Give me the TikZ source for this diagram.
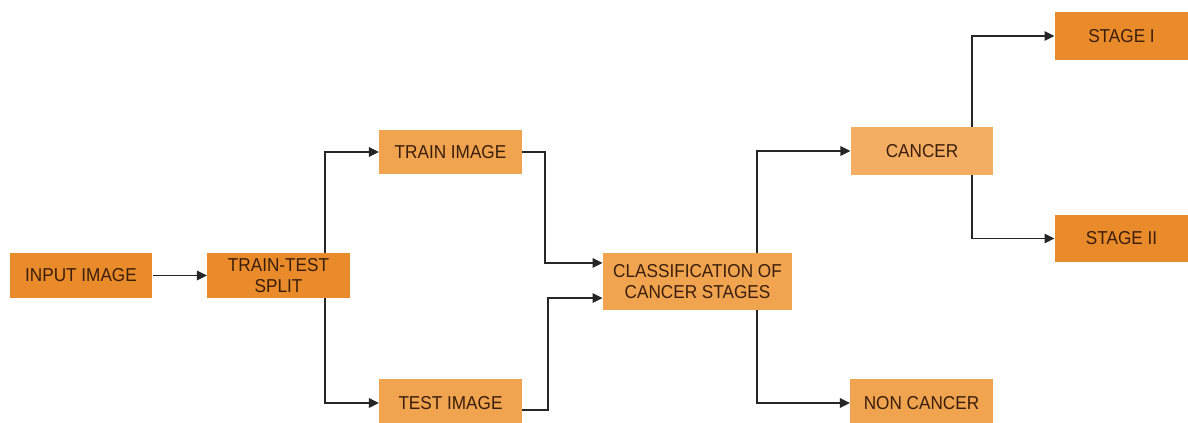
\documentclass[tikz,border=0pt]{standalone}
\usepackage{fontspec}
\setmainfont[FakeStretch=0.92]{Liberation Sans}
\usetikzlibrary{arrows.meta, positioning}

\definecolor{boxdark}{HTML}{E98A2B}
\definecolor{boxlight}{HTML}{F1A44F}
\definecolor{boxpale}{HTML}{F3AE63}
\definecolor{boxtext}{HTML}{3A1E0A}

\begin{document}
\begin{tikzpicture}[x=0.75pt, y=-0.75pt, >={Triangle[length=7.5pt,width=7pt]}]
        \tikzstyle{box}=[rectangle, inner sep=0pt, text=boxtext, align=center,
                         font=\fontsize{14}{15.5}\selectfont]
        \tikzstyle{dark box}=[box, fill=boxdark];
        \tikzstyle{light box}=[box, fill=boxlight];
        \tikzstyle{pale box}=[box, fill=boxpale];
        \tikzstyle{arrow}=[->, line width=1.4pt, draw=black!85];

        \useasboundingbox (0,0) rectangle (1188,423);

        % Input and split
        \node[dark box, minimum width=107pt, minimum height=34pt] (input) at (81,275.5) {INPUT IMAGE};
        \node[dark box, minimum width=107pt, minimum height=34pt] (split) at (278.5,275.5) {TRAIN-TEST\\SPLIT};

        % Train and test images
        \node[light box, minimum width=107pt, minimum height=33pt] (train) at (450.5,152) {TRAIN IMAGE};
        \node[light box, minimum width=107pt, minimum height=36pt] (test) at (450.5,403) {TEST IMAGE};

        % Classifier
        \node[light box, minimum width=142pt, minimum height=43pt] (class) at (697.5,281.5) {CLASSIFICATION OF\\CANCER STAGES};

        % Results
        \node[pale box, minimum width=107pt, minimum height=36pt] (cancer) at (922,151) {CANCER};
        \node[light box, minimum width=107pt, minimum height=36pt] (noncancer) at (921.5,403) {NON CANCER};

        % Stages
        \node[dark box, minimum width=100pt, minimum height=36pt] (stage1) at (1121.5,36) {STAGE I};
        \node[dark box, minimum width=100pt, minimum height=35pt] (stage2) at (1121.5,238.5) {STAGE II};

        \draw[arrow] (input) -- (split);

        % Branch off the top or bottom of a box
        \foreach \src/\side/\dx/\dest in {split/north/34.9pt/train, split/south/34.9pt/test,
                                          class/north/44.6pt/cancer, class/south/44.6pt/noncancer,
                                          cancer/north/37.5pt/stage1, cancer/south/37.5pt/stage2}
            \draw[arrow] ([xshift=\dx]\src.\side) |- (\dest.west);

        % Join the two images into the classifier
        \draw[arrow] (train.east) -- ++(23,0) |- ([yshift=13.9pt]class.west);
        \draw[arrow] ([yshift=-5.25pt]test.east) -- ++(26,0) |- ([yshift=-12.4pt]class.west);

    \end{tikzpicture}
\end{document}
